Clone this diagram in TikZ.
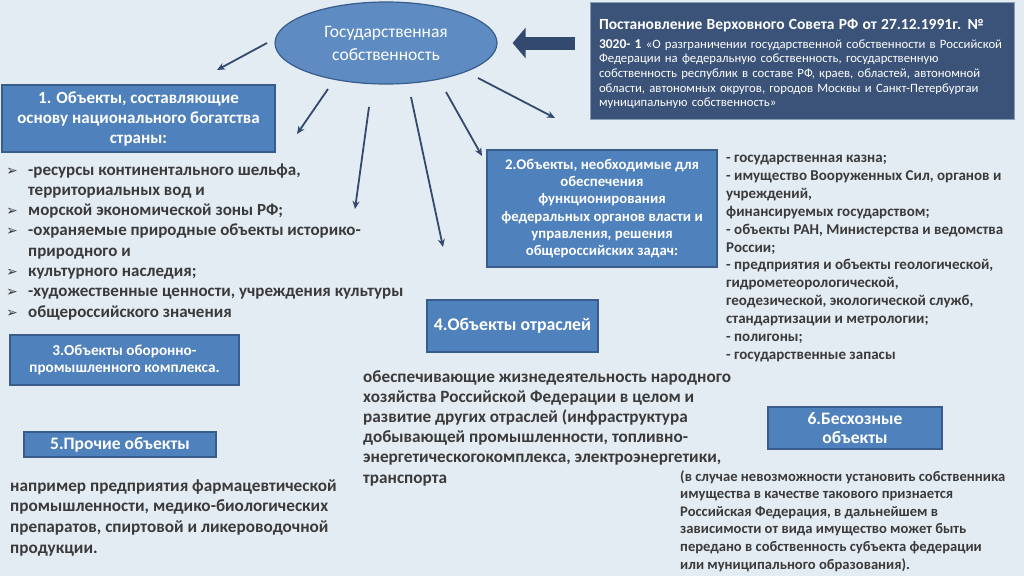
\documentclass[tikz,border=0pt]{standalone}
\usepackage{fontspec}
\setmainfont{Carlito}
\newfontfamily\symfont{DejaVu Sans}
\usetikzlibrary{arrows.meta}
\usetikzlibrary{shapes.geometric}

\definecolor{bgcol}{HTML}{E4ECF3}
\definecolor{boxblue}{HTML}{4F81BD}
\definecolor{boxline}{HTML}{385D8A}
\definecolor{navy}{HTML}{3B5378}
\definecolor{arrowcol}{HTML}{34496E}
\definecolor{txt}{HTML}{3A3A3A}

\tikzset{
  bluebox/.style={draw=boxline, line width=1.2pt, fill=boxblue, text=white, align=center, inner sep=0pt},
  bodytext/.style={anchor=base west, inner sep=0pt, align=left, text=txt},
  thinarrow/.style={draw=arrowcol, line width=1.8pt, -{Stealth[length=8pt, width=7pt]}},
  bullet/.style={anchor=base, inner sep=0pt, text=txt, font=\symfont\fontsize{14}{14}\selectfont}
}

\begin{document}
\begin{tikzpicture}[x=1pt, y=-1pt]
\useasboundingbox (0,0) rectangle (1024,576);
\fill[bgcol] (0,0) rectangle (1024,576);

% centre
\node[ellipse, draw=boxline, line width=1.2pt, fill=boxblue!92!white, minimum width=222pt, minimum height=82pt,
  inner sep=0pt, align=center, text=white, font=\fontsize{17.5}{23}\selectfont] (gs) at (386,43)
  {Государственная\\собственность};

% decree
\node[draw=boxline!60!white, fill=navy, text=white, minimum width=424pt, minimum height=117pt,
  text width=406pt, inner xsep=9pt, align=left, font=\fontsize{12.7}{14.6}\selectfont] (dec) at (802,60.5)
  {\rule{0pt}{17.5pt}{\bfseries\fontsize{15.5}{17}\selectfont Постановление Верховного Совета РФ от 27.12.1991г. №}\\[4pt]
   {\bfseries\fontsize{13.5}{14.6}\selectfont 3020- 1} «О разграничении государственной собственности в Российской\\
   Федерации на федеральную собственность, государственную\\
   собственность республик в составе РФ, краев, областей, автономной\\
   области, автономных округов, городов Москвы и Санкт-Петербургаи\\
   муниципальную собственность»};

\draw[draw=arrowcol, line width=13pt, -{Triangle[length=13pt, width=30pt]}, shorten <=15pt, shorten >=15pt]
  (dec.west |- gs.east) -- (gs.east);

% boxes
\node[bluebox, minimum width=273pt, minimum height=67pt, font=\bfseries\fontsize{17}{20}\selectfont] (b1) at (138.5,118.5)
  {1. Объекты, составляющие\\основу национального богатства\\страны:};
\node[bluebox, minimum width=230pt, minimum height=117pt, font=\bfseries\fontsize{14.8}{17.3}\selectfont] (b2) at (602,208.5)
  {2.Объекты, необходимые для\\обеспечения\\функционирования\\федеральных органов власти и\\управления, решения\\общероссийских задач:};
\node[bluebox, minimum width=229pt, minimum height=50pt, font=\bfseries\fontsize{15.2}{17.5}\selectfont] (b3) at (124.5,360)
  {3.Объекты оборонно-\\промышленного комплекса.};
\node[bluebox, minimum width=171pt, minimum height=52pt, font=\bfseries\fontsize{17.8}{20}\selectfont] (b4) at (512.5,326)
  {4.Объекты отраслей};
\node[bluebox, minimum width=192pt, minimum height=25pt, font=\bfseries\fontsize{17.5}{20}\selectfont] (b5) at (120,444.5)
  {5.Прочие объекты};
\node[bluebox, minimum width=174pt, minimum height=42pt, font=\bfseries\fontsize{17.5}{19}\selectfont] (b6) at (855,428)
  {6.Бесхозные\\объекты};

% arrows from the centre
\coordinate (s1) at (267,43);  \coordinate (e1) at (217,70);
\coordinate (s2) at (328,89);  \coordinate (e2) at (297,134);
\coordinate (s3) at (369,107); \coordinate (e3) at (355,209);
\coordinate (s4) at (411,97);  \coordinate (e4) at (443,247);
\coordinate (s5) at (446,92);  \coordinate (e5) at (482,156);
\coordinate (s6) at (478,78);  \coordinate (e6) at (555,118);
\foreach \i in {1,...,6}
  \draw[thinarrow] (s\i) -- (e\i);

% list of group 1 (anchored at the last baseline)
\node[bodytext, font=\bfseries\fontsize{17}{20.3}\selectfont] (l1) at (28,317.1)
  {-ресурсы континентального шельфа,\\
   территориальных вод и\\
   морской экономической зоны РФ;\\
   -охраняемые природные объекты историко-\\
   природного и\\
   культурного наследия;\\
   -художественные ценности, учреждения культуры\\
   общероссийского значения};
\foreach \k in {0,2,3,5,6,7}
  \node[bullet] (p\k) at (12,{175+20.3*\k}) {➢};

% list of group 2
\node[bodytext, font=\bfseries\fontsize{15}{17.9}\selectfont] (l2) at (726,359.4)
  {- государственная казна;\\
   - имущество Вооруженных Сил, органов и\\
   учреждений,\\
   финансируемых государством;\\
   - объекты РАН, Министерства и ведомства\\
   России;\\
   - предприятия и объекты геологической,\\
   гидрометеорологической,\\
   геодезической, экологической служб,\\
   стандартизации и метрологии;\\
   - полигоны;\\
   - государственные запасы};

\node[bodytext, font=\bfseries\fontsize{17.2}{20.2}\selectfont] (l4) at (363,483)
  {обеспечивающие жизнедеятельность народного\\
   хозяйства Российской Федерации в целом и\\
   развитие других отраслей (инфраструктура\\
   добывающей промышленности, топливно-\\
   энергетическогокомплекса, электроэнергетики,\\
   транспорта};

\node[bodytext, font=\bfseries\fontsize{17.2}{20.8}\selectfont] (l5) at (10,553.4)
  {например предприятия фармацевтической\\
   промышленности, медико-биологических\\
   препаратов, спиртовой и ликероводочной\\
   продукции.};

\node[bodytext, font=\bfseries\fontsize{14.6}{17.6}\selectfont] (l6) at (680,569)
  {(в случае невозможности установить собственника\\
   имущества в качестве такового признается\\
   Российская Федерация, в дальнейшем в\\
   зависимости от вида имущество может быть\\
   передано в собственность субъекта федерации\\
   или муниципального образования).};
\end{tikzpicture}
\end{document}
